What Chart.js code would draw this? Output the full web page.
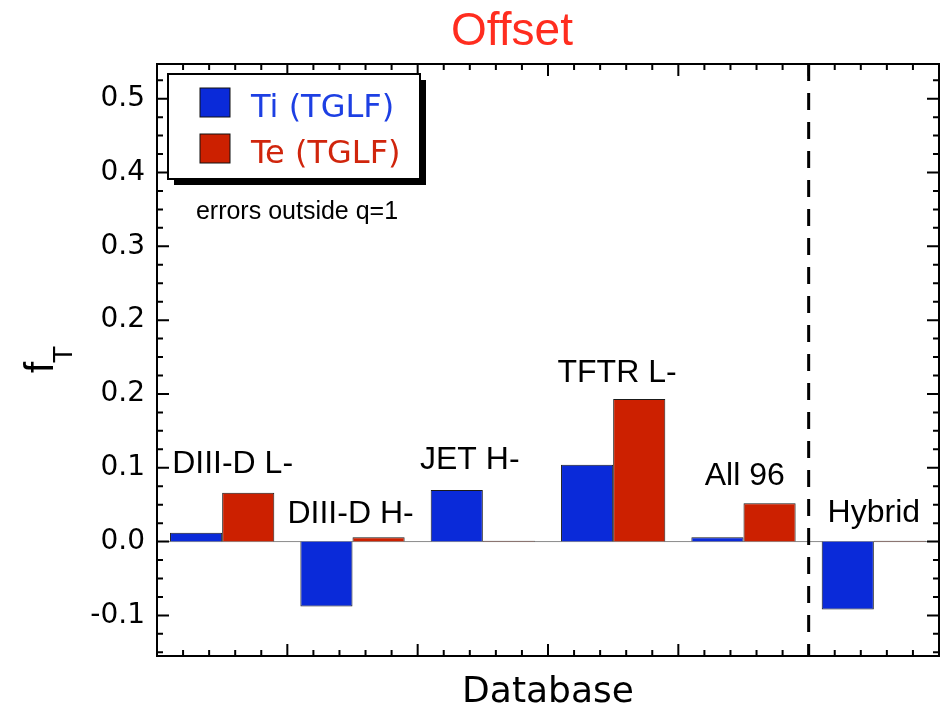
<!DOCTYPE html>
<html>
<head>
<meta charset="utf-8">
<script src="https://cdn.jsdelivr.net/npm/chart.js@4.4.0/dist/chart.umd.min.js"></script>
<style>
  html, body { margin: 0; padding: 0; background: #fff; }
  #box { width: 946px; height: 714px; }
</style>
</head>
<body>
<div id="box"><canvas id="canvas1" width="946" height="714"></canvas></div>
<script>
// values
const databases = ['DIII-D L-', 'DIII-D H-', 'JET H-', 'TFTR L-', 'All 96', 'Hybrid'];
const tiTglf = [0.012, -0.088, 0.070, 0.104, 0.006, -0.092];
const teTglf = [0.066, 0.006, 0.001, 0.193, 0.052, 0.001];
const yTickValues = [-0.1, 0.0, 0.1, 0.2, 0.3, 0.4, 0.5, 0.6];
const yTickLabels = ['-0.1', '0.0', '0.1', '0.2', '0.2', '0.3', '0.4', '0.5'];
// where each database name sits (x in categories, y = baseline in f_T)
const nameX = [0.58, 1.485, 2.40, 3.53, 4.51, 5.50];
const nameY = [0.093, 0.025, 0.098, 0.216, 0.077, 0.026];
const splitAt = 5; // dashed line before the hybrid case

const BLUE = '#0a2ad9';
const RED = '#cc2000';

// frame, inward ticks, labels, legend box ... (IDL style)
const idlDecor = {
    id: 'idlDecor',
    beforeDatasetsDraw(chart) {
        const ctx = chart.ctx, a = chart.chartArea, ys = chart.scales.y;
        const y0 = ys.getPixelForValue(0);
        ctx.save();
        ctx.strokeStyle = '#8a8a8a';
        ctx.lineWidth = 1;
        ctx.beginPath();
        ctx.moveTo(a.left, y0);
        ctx.lineTo(a.right, y0);
        ctx.stroke();
        ctx.restore();
    },
    afterDatasetsDraw(chart) {
        const ctx = chart.ctx, a = chart.chartArea;
        const xs = chart.scales.x, ys = chart.scales.y;
        const unit = xs.width / databases.length;
        const xAt = u => xs.left + u * unit;

        ctx.save();

        // title, a bit left of the plot centre like the original
        ctx.fillStyle = '#ff2d1f';
        ctx.font = '46px "Liberation Sans", Arial, sans-serif';
        ctx.textAlign = 'center';
        ctx.textBaseline = 'alphabetic';
        ctx.fillText('Offset', 512, 45);

        // dashed separator
        ctx.strokeStyle = '#000';
        ctx.lineWidth = 3;
        ctx.setLineDash([17, 12]);
        ctx.beginPath();
        ctx.moveTo(xAt(splitAt), a.top);
        ctx.lineTo(xAt(splitAt), a.bottom);
        ctx.stroke();
        ctx.setLineDash([]);

        // frame
        ctx.lineWidth = 2;
        ctx.strokeRect(a.left, a.top, a.right - a.left, a.bottom - a.top);

        // y ticks, every 0.025, major every 0.1
        ctx.beginPath();
        for (let k = Math.ceil(ys.min / 0.025); k * 0.025 <= ys.max; k++) {
            const py = ys.getPixelForValue(k * 0.025);
            const len = k % 4 === 0 ? 12 : 6;
            ctx.moveTo(a.left, py); ctx.lineTo(a.left + len, py);
            ctx.moveTo(a.right, py); ctx.lineTo(a.right - len, py);
        }
        // x ticks, 5 per category
        for (let k = 0; k <= databases.length * 5; k++) {
            const px = xAt(k / 5);
            const len = k % 5 === 0 ? 12 : 6;
            ctx.moveTo(px, a.bottom); ctx.lineTo(px, a.bottom - len);
            ctx.moveTo(px, a.top); ctx.lineTo(px, a.top + len);
        }
        ctx.stroke();

        // database names
        ctx.fillStyle = '#000';
        ctx.font = '32px "Liberation Sans", Arial, sans-serif';
        databases.forEach((name, i) => {
            ctx.fillText(name, xAt(nameX[i]), ys.getPixelForValue(nameY[i]));
        });

        // legend box with shadow
        const bx = a.left + 11, by = a.top + 10, bw = 252, bh = 105;
        ctx.fillStyle = '#000';
        ctx.fillRect(bx + 6, by + 6, bw, bh);
        ctx.fillStyle = '#fff';
        ctx.fillRect(bx, by, bw, bh);
        ctx.strokeStyle = '#000';
        ctx.lineWidth = 2;
        ctx.strokeRect(bx, by, bw, bh);

        ctx.textAlign = 'left';
        ctx.font = '32px "DejaVu Sans", sans-serif';
        chart.data.datasets.forEach((ds, i) => {
            const sy = by + 14 + i * 46;
            ctx.fillStyle = ds.backgroundColor;
            ctx.fillRect(bx + 32, sy, 30, 29);
            ctx.lineWidth = 1;
            ctx.strokeStyle = '#111';
            ctx.strokeRect(bx + 32, sy, 30, 29);
            ctx.fillStyle = ds.labelColor;
            ctx.fillText(ds.label, bx + 83, sy + 29);
        });

        // note under the legend
        ctx.fillStyle = '#000';
        ctx.font = '25px "Liberation Sans", Arial, sans-serif';
        ctx.textAlign = 'center';
        ctx.fillText('errors outside q=1', bx + 129, by + 145);

        // y title f_T
        ctx.translate(53, 373);
        ctx.rotate(-Math.PI / 2);
        ctx.textAlign = 'left';
        ctx.font = '40px "Liberation Sans", Arial, sans-serif';
        ctx.fillText('f', 0, 0);
        const fw = ctx.measureText('f').width;
        ctx.font = '28px "Liberation Sans", Arial, sans-serif';
        ctx.fillText('T', fw - 1, 19);

        ctx.restore();
    }
};

const ctx1 = document.getElementById('canvas1');

new Chart(ctx1, {
    type: 'bar',
    data: {
        labels: databases,
        datasets: [{
            label: 'Ti (TGLF)',
            data: tiTglf,
            backgroundColor: BLUE,
            labelColor: '#1d3fe3',
            borderColor: '#1a1a1a',
            borderWidth: 1
        },
        {
            label: 'Te (TGLF)',
            data: teTglf,
            backgroundColor: RED,
            labelColor: '#d0250c',
            borderColor: '#1a1a1a',
            borderWidth: 1
        }]
    },
    options: {
        responsive: false,
        animation: false,
        devicePixelRatio: 1,
        layout: { padding: { left: 0, right: 7, top: 64, bottom: 0 } },
        datasets: {
            bar: { barPercentage: 1.0, categoryPercentage: 0.8 }
        },
        plugins: {
            legend: { display: false },
            tooltip: { enabled: false },
            title: { display: false }
        },
        scales: {
            x: {
                type: 'category',
                offset: true,
                grid: { display: false, drawTicks: false },
                border: { display: false },
                ticks: { display: false },
                title: {
                    display: true,
                    text: 'Database',
                    color: '#000',
                    font: { family: '"DejaVu Sans", sans-serif', size: 36 },
                    padding: { top: 0, bottom: 0 }
                },
                afterFit(scale) { scale.height = 58; }
            },
            y: {
                min: -0.155,
                max: 0.647,
                grid: { display: false, drawTicks: false },
                border: { display: false },
                ticks: {
                    stepSize: 0.1,
                    includeBounds: false,
                    padding: 12,
                    color: '#000',
                    font: { family: '"DejaVu Sans", sans-serif', size: 28 },
                    callback: v => yTickLabels[yTickValues.indexOf(Math.round(v * 10) / 10)]
                },
                afterFit(scale) { scale.width = 157; }
            }
        }
    },
    plugins: [idlDecor]
});
</script>
</body>
</html>
